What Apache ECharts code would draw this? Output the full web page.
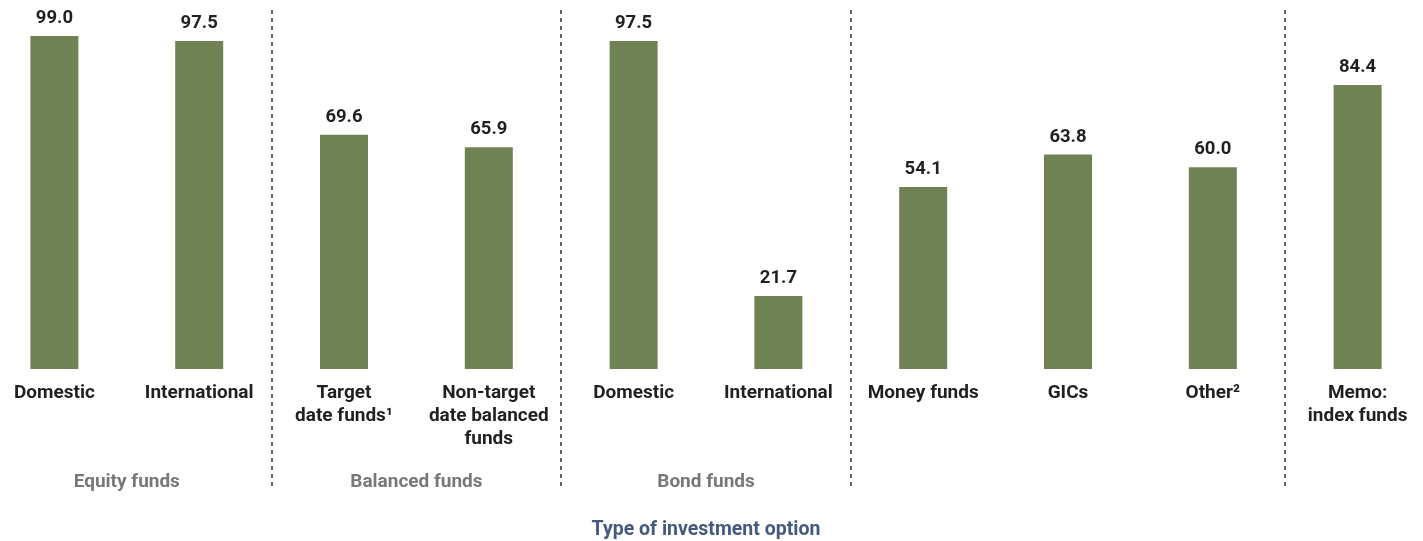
<!DOCTYPE html>
<html>
<head>
    <meta charset="utf-8">
    <title>Type of investment option</title>
    <script type="text/javascript" src="https://cdn.jsdelivr.net/npm/echarts@6/dist/echarts.min.js"></script>
    <style>
        html, body { margin: 0; padding: 0; background: #fff; overflow: hidden; }
        /* the first category starts left of the page edge, so the chart box is shifted */
        #main { position: absolute; left: -18px; top: 0; width: 1448px; height: 541px; }
    </style>
</head>
<body>
<div id="main"></div>
<script type="text/javascript">
    // data
    var categories = ['Domestic', 'International', 'Target\ndate funds\u00b9', 'Non-target\ndate balanced\nfunds',
        'Domestic', 'International', 'Money funds', 'GICs', 'Other\u00b2', 'Memo:\nindex funds'];
    var values = [99.0, 97.5, 69.6, 65.9, 97.5, 21.7, 54.1, 63.8, 60.0, 84.4];
    var groupNames = ['Equity funds', 'Balanced funds', 'Bond funds'];
    var groupFirst = [0, 2, 4];
    var groupLast = [1, 3, 5];
    var separatorsBefore = [2, 4, 6, 9];

    var FONT = 'Roboto';
    var myChart = echarts.init(document.getElementById('main'));

    myChart.setOption({
        animation: false,
        grid: [
            {left: 0, right: 0, top: 32.6, bottom: 172, outerBoundsMode: 'none'},
            {left: 0, right: 0, top: 10, bottom: 54, outerBoundsMode: 'none'}
        ],
        xAxis: [{
            type: 'category',
            gridIndex: 0,
            data: categories,
            axisLine: {show: false},
            axisTick: {show: false},
            axisLabel: {
                interval: 0,
                margin: 13,
                color: '#231f20',
                fontFamily: FONT,
                fontWeight: 'bold',
                fontSize: 19,
                lineHeight: 23
            },
            name: 'Type of investment option',
            nameLocation: 'middle',
            nameGap: 151,
            nameTextStyle: {
                color: '#44597e',
                fontFamily: FONT,
                fontWeight: 'bold',
                fontSize: 19.5
            }
        }, {
            type: 'category',
            gridIndex: 1,
            data: categories,
            axisLine: {show: false},
            axisTick: {show: false},
            axisLabel: {show: false},
            splitLine: {
                show: true,
                interval: function (index) {
                    return separatorsBefore.indexOf(index) >= 0;
                },
                lineStyle: {color: '#333', width: 1.5, type: [4, 4]}
            }
        }],
        yAxis: [
            {type: 'value', gridIndex: 0, min: 0, max: 100, show: false},
            {type: 'value', gridIndex: 1, min: 0, max: 100, show: false}
        ],
        series: [{
            type: 'bar',
            xAxisIndex: 0,
            yAxisIndex: 0,
            data: values,
            barWidth: 48,
            itemStyle: {color: '#6f8253'},
            label: {
                show: true,
                position: 'top',
                distance: 8,
                color: '#231f20',
                fontFamily: FONT,
                fontWeight: 'bold',
                fontSize: 18.5,
                formatter: function (p) { return p.value.toFixed(1); }
            }
        }]
    });

    // group labels under the category labels, centred on their categories
    var texts = [];
    for (var i = 0; i < groupNames.length; i++) {
        var x1 = myChart.convertToPixel({xAxisIndex: 0}, groupFirst[i]);
        var x2 = myChart.convertToPixel({xAxisIndex: 0}, groupLast[i]);
        texts.push({
            type: 'text',
            x: (x1 + x2) / 2,
            y: 482,
            style: {
                text: groupNames[i],
                fill: '#77787b',
                font: 'bold 19px ' + FONT,
                align: 'center',
                verticalAlign: 'middle'
            }
        });
    }
    myChart.setOption({graphic: texts});
</script>
</body>
</html>
